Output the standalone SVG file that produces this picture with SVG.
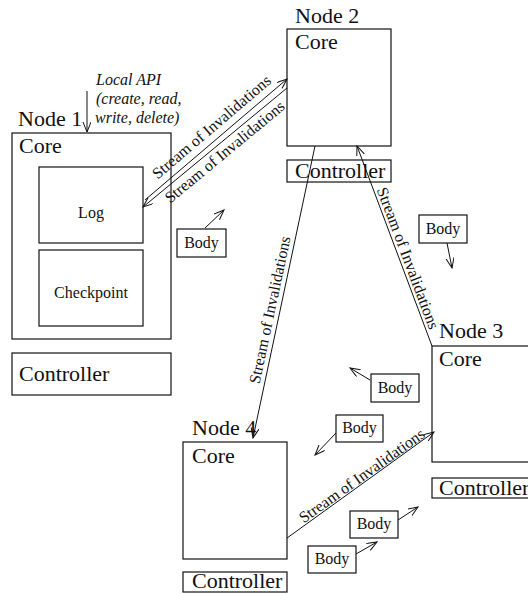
<svg xmlns="http://www.w3.org/2000/svg" width="528" height="594" viewBox="0 0 528 594">
<style>
.box{fill:none;stroke:#111;stroke-width:1.2}
.ln{fill:none;stroke:#111;stroke-width:1}
.big{font-family:"Liberation Serif","Times New Roman",serif;font-size:22px;fill:#111}
.sm{font-family:"Liberation Serif","Times New Roman",serif;font-size:16px;fill:#111}
.it{font-family:"Liberation Serif","Times New Roman",serif;font-size:16px;font-style:italic;fill:#111}
.c{text-anchor:middle}
</style>
<defs>
<marker id="arr" markerWidth="12" markerHeight="10" refX="10" refY="4" orient="auto" markerUnits="userSpaceOnUse">
<path d="M0,0 L10,4 L0,8" fill="none" stroke="#111" stroke-width="1"/>
</marker>
</defs>
<rect width="528" height="594" fill="#fff"/>

<g id="node1">
<text class="big" x="18" y="126">Node 1</text>
<rect class="box" x="12" y="133" width="159" height="206"/>
<text class="big" x="19" y="153">Core</text>
<g id="log"><rect class="box" x="39" y="167" width="104" height="76"/><text class="sm c" x="91" y="218">Log</text></g>
<g id="checkpoint"><rect class="box" x="39" y="250" width="104" height="76"/><text class="sm c" x="91" y="298">Checkpoint</text></g>
<g id="controller1"><rect class="box" x="12" y="353" width="159" height="42"/><text class="big" x="19" y="381">Controller</text></g>
</g>

<g id="node2">
<text class="big" x="295" y="23">Node 2</text>
<rect class="box" x="287" y="29" width="104" height="117"/>
<text class="big" x="295" y="49">Core</text>
<g id="controller2"><rect class="box" x="287" y="160" width="104" height="22"/><text class="big" x="295" y="178">Controller</text></g>
</g>

<g id="node3">
<text class="big" x="439" y="338">Node 3</text>
<rect class="box" x="432" y="346" width="110" height="116"/>
<text class="big" x="439" y="366">Core</text>
<g id="controller3"><rect class="box" x="432" y="478" width="110" height="20"/><text class="big" x="439" y="495">Controller</text></g>
</g>

<g id="node4">
<text class="big" x="192" y="435">Node 4</text>
<rect class="box" x="183" y="442" width="104" height="117"/>
<text class="big" x="192" y="463">Core</text>
<g id="controller4"><rect class="box" x="183" y="572" width="104" height="20"/><text class="big" x="192" y="588">Controller</text></g>
</g>

<g id="localapi">
<text class="it" x="96" y="85">Local API</text>
<text class="it" x="96" y="104">(create, read,</text>
<text class="it" x="95" y="123">write, delete)</text>
</g>

<g id="body1"><rect class="box" x="177" y="229" width="49" height="28"/><text class="sm c" x="201.5" y="248">Body</text></g>
<g id="body2"><rect class="box" x="419" y="215" width="48" height="28"/><text class="sm c" x="443" y="234">Body</text></g>
<g id="body3"><rect class="box" x="371" y="374" width="48" height="28"/><text class="sm c" x="395" y="393">Body</text></g>
<g id="body4"><rect class="box" x="336" y="415" width="47" height="27"/><text class="sm c" x="359.5" y="433">Body</text></g>
<g id="body5"><rect class="box" x="350" y="511" width="48" height="27"/><text class="sm c" x="374" y="529">Body</text></g>
<g id="body6"><rect class="box" x="308" y="546" width="48" height="27"/><text class="sm c" x="332" y="564">Body</text></g>

<g id="connectors">
<line class="ln" x1="87" y1="91" x2="87" y2="132" marker-end="url(#arr)"/>
<line class="ln" x1="145" y1="200" x2="287" y2="79" marker-end="url(#arr)"/>
<line class="ln" x1="287" y1="88" x2="143" y2="207" marker-end="url(#arr)"/>
<line class="ln" x1="315" y1="146" x2="253" y2="438" marker-end="url(#arr)"/>
<line class="ln" x1="432" y1="346" x2="357" y2="146" marker-end="url(#arr)"/>
<line class="ln" x1="287" y1="538" x2="434" y2="432" marker-end="url(#arr)"/>
<line class="ln" x1="205" y1="228" x2="224" y2="210" marker-end="url(#arr)"/>
<line class="ln" x1="447" y1="243" x2="452" y2="268" marker-end="url(#arr)"/>
<line class="ln" x1="370" y1="380" x2="350" y2="368" marker-end="url(#arr)"/>
<line class="ln" x1="336" y1="433" x2="315" y2="455" marker-end="url(#arr)"/>
<line class="ln" x1="398" y1="520" x2="418" y2="507" marker-end="url(#arr)"/>
<line class="ln" x1="356" y1="554" x2="377" y2="542" marker-end="url(#arr)"/>
<text class="sm c" transform="translate(215,131) rotate(-40.4)">Stream of Invalidations</text>
<text class="sm c" transform="translate(228,156) rotate(-39.6)">Stream of Invalidations</text>
<text class="sm c" transform="translate(275,311) rotate(-78)">Stream of Invalidations</text>
<text class="sm c" transform="translate(403,260) rotate(69.4)">Stream of Invalidations</text>
<text class="sm c" transform="translate(365,480) rotate(-35.5)">Stream of Invalidations</text>
</g>
</svg>
